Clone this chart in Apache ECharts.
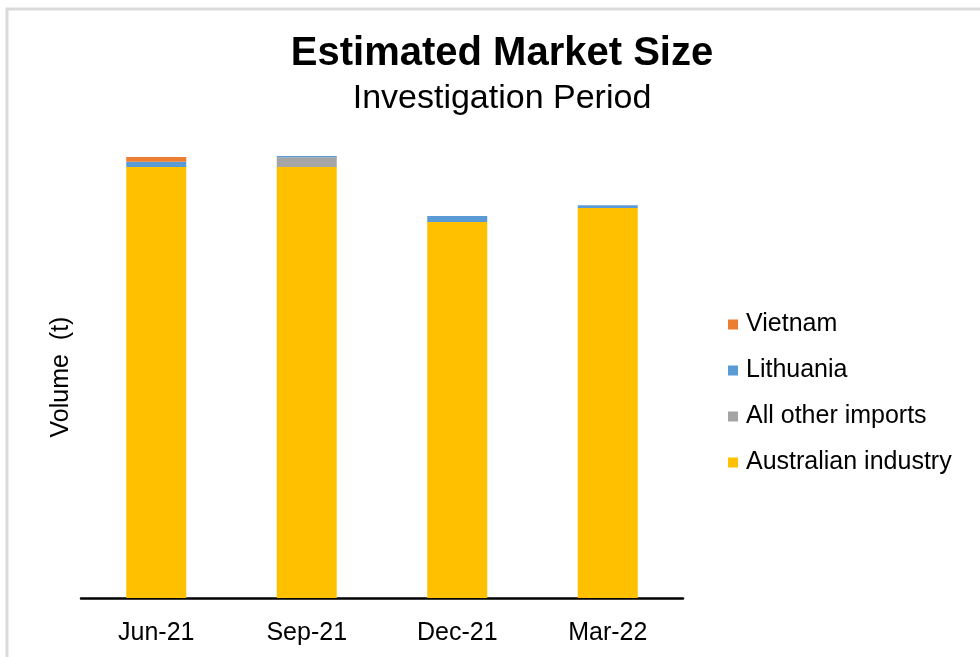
<!DOCTYPE html>
<html>
<head>
<meta charset="utf-8">
<script src="https://cdn.jsdelivr.net/npm/echarts@6/dist/echarts.min.js"></script>
<style>
  html, body { margin: 0; padding: 0; background: #fff; }
  #main { width: 980px; height: 657px; }
</style>
</head>
<body>
<div id="main"></div>
<script>
// quarters
const categories = ['Jun-21', 'Sep-21', 'Dec-21', 'Mar-22'];
// volumes (no scale shown on chart, relative units)
const australianIndustry = [431, 431, 376, 390];
const allOtherImports = [0, 9.7, 0, 0];
const lithuania = [5.3, 1.3, 6, 2.7];
const vietnam = [4.7, 0, 0, 0];

const chart = echarts.init(document.getElementById('main'));
const font = 'Liberation Sans, Arial, sans-serif';

const option = {
  animation: false,
  backgroundColor: '#fff',
  title: [
    {
      text: 'Estimated Market Size',
      left: 497, top: 29, textAlign: 'center',
      textStyle: { fontFamily: font, fontSize: 40, fontWeight: 'bold', color: '#000' }
    },
    {
      text: 'Investigation Period',
      left: 497, top: 77, textAlign: 'center',
      textStyle: { fontFamily: font, fontSize: 34, fontWeight: 'normal', color: '#000' }
    }
  ],
  graphic: [{
    type: 'rect',
    shape: { x: 7, y: 9, width: 990, height: 670 },
    style: { fill: 'none', stroke: '#d9d9d9', lineWidth: 3 }
  }],
  legend: {
    orient: 'vertical',
    left: 728, top: 312,
    padding: 0,
    itemWidth: 10, itemHeight: 10, itemGap: 21,
    icon: 'rect',
    data: ['Vietnam', 'Lithuania', 'All other imports', 'Australian industry'],
    textStyle: { fontFamily: font, fontSize: 25, color: '#000', padding: [0, 0, 0, 3] }
  },
  grid: { left: 81, right: 297, top: 138, bottom: 59 },
  xAxis: {
    type: 'category',
    data: categories,
    axisLine: { lineStyle: { color: '#000', width: 2.5 } },
    axisTick: { show: false },
    axisLabel: { fontFamily: font, fontSize: 25, color: '#000', margin: 23 }
  },
  yAxis: {
    type: 'value',
    min: 0, max: 460,
    name: 'Volume  (t)',
    nameLocation: 'middle',
    nameGap: 7,
    nameTextStyle: { fontFamily: font, fontSize: 25, color: '#000', padding: [0, 18, 0, 0] },
    axisLine: { show: false },
    axisTick: { show: false },
    axisLabel: { show: false },
    splitLine: { show: false }
  },
  series: [
    { name: 'Australian industry', type: 'bar', stack: 'v', barWidth: 60, data: australianIndustry, itemStyle: { color: '#FFC000' } },
    { name: 'All other imports', type: 'bar', stack: 'v', data: allOtherImports, itemStyle: { color: '#A5A5A5' } },
    { name: 'Lithuania', type: 'bar', stack: 'v', data: lithuania, itemStyle: { color: '#5B9BD5' } },
    { name: 'Vietnam', type: 'bar', stack: 'v', data: vietnam, itemStyle: { color: '#ED7D31' } }
  ]
};
chart.setOption(option);
</script>
</body>
</html>
